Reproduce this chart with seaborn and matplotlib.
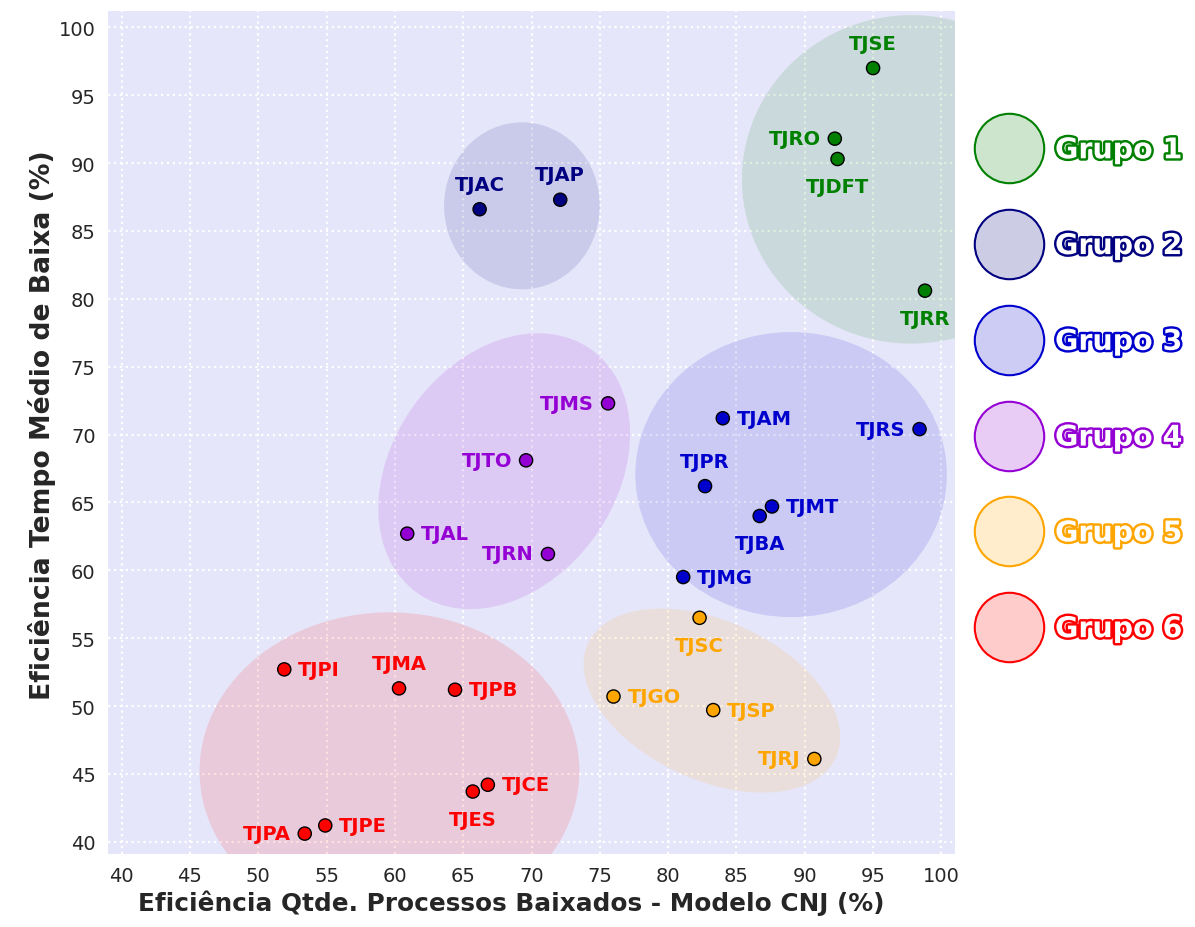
import numpy as np
import pandas as pd
import matplotlib
matplotlib.use("Agg")
import matplotlib.pyplot as plt
import seaborn as sns
from matplotlib.patches import Ellipse
from matplotlib.lines import Line2D
import matplotlib.patheffects as pe

# ---------------- data ----------------
tribunais = ["TJSE", "TJRO", "TJDFT", "TJRR",
             "TJAC", "TJAP",
             "TJAM", "TJRS", "TJPR", "TJMT", "TJBA", "TJMG",
             "TJMS", "TJTO", "TJAL", "TJRN",
             "TJSC", "TJGO", "TJSP", "TJRJ",
             "TJPI", "TJMA", "TJPB", "TJCE", "TJES", "TJPE", "TJPA"]
qtde_baixados = [95.0, 92.2, 92.4, 98.8,
                 66.2, 72.1,
                 84.0, 98.4, 82.7, 87.6, 86.7, 81.1,
                 75.6, 69.6, 60.9, 71.2,
                 82.3, 76.0, 83.3, 90.7,
                 51.9, 60.3, 64.4, 66.8, 65.7, 54.9, 53.4]
tempo_medio = [97.0, 91.8, 90.3, 80.6,
               86.6, 87.3,
               71.2, 70.4, 66.2, 64.7, 64.0, 59.5,
               72.3, 68.1, 62.7, 61.2,
               56.5, 50.7, 49.7, 46.1,
               52.7, 51.3, 51.2, 44.2, 43.7, 41.2, 40.6]
grupos = ["Grupo 1"] * 4 + ["Grupo 2"] * 2 + ["Grupo 3"] * 6 + \
         ["Grupo 4"] * 4 + ["Grupo 5"] * 4 + ["Grupo 6"] * 7

nomes_grupos = ["Grupo 1", "Grupo 2", "Grupo 3", "Grupo 4", "Grupo 5", "Grupo 6"]
cores_grupos = ["green", "navy", "mediumblue", "darkviolet", "orange", "red"]

xticks = [40, 45, 50, 55, 60, 65, 70, 75, 80, 85, 90, 95, 100]
yticks = [40, 45, 50, 55, 60, 65, 70, 75, 80, 85, 90, 95, 100]

df = pd.DataFrame({"tribunal": tribunais, "x": qtde_baixados,
                   "y": tempo_medio, "grupo": grupos})
paleta = dict(zip(nomes_grupos, cores_grupos))

# ---------------- style ----------------
sns.set_theme(style="darkgrid", rc={
    "axes.facecolor": "#e6e6fa",
    "grid.color": "white",
    "grid.linestyle": ":",
    "grid.linewidth": 1.6,
})
plt.rcParams["font.family"] = ["DejaVu Sans"]

fig = plt.figure(figsize=(11.95, 9.28), dpi=100)
ax = fig.add_axes([0.0904, 0.0787, 0.7088, 0.9083])

# cluster ellipses (center x, center y, width, height, angle)
elipses = {
    "Grupo 1": (97.8, 88.8, 24.8, 24.2, 0),
    "Grupo 2": (69.3, 86.85, 11.4, 12.3, 0),
    "Grupo 3": (89.0, 67.05, 22.8, 21.0, 0),
    "Grupo 4": (68.0, 67.3, 22.0, 16.4, 55),
    "Grupo 5": (83.2, 50.4, 20.0, 11.7, -25),
    "Grupo 6": (59.6, 45.2, 27.8, 23.4, 0),
}
for g, c in paleta.items():
    cx, cy, w, h, ang = elipses[g]
    ax.add_patch(Ellipse((cx, cy), w, h, angle=ang, facecolor=c,
                         alpha=0.12, edgecolor="none", zorder=1))

sns.scatterplot(data=df, x="x", y="y", hue="grupo", palette=paleta,
                s=90, edgecolor="black", linewidth=1.0, legend=False,
                ax=ax, zorder=3)

pos = {"TJSE": "t", "TJRO": "l", "TJDFT": "b", "TJRR": "b",
       "TJAC": "t", "TJAP": "t",
       "TJAM": "r", "TJRS": "l", "TJPR": "t", "TJMT": "r", "TJBA": "b", "TJMG": "r",
       "TJMS": "l", "TJTO": "l", "TJAL": "r", "TJRN": "l",
       "TJSC": "b", "TJGO": "r", "TJSP": "r", "TJRJ": "l",
       "TJPI": "r", "TJMA": "t", "TJPB": "r", "TJCE": "r", "TJES": "b",
       "TJPE": "r", "TJPA": "l"}
offs = {"t": ((0, 11), "center", "bottom"),
        "b": ((0, -13), "center", "top"),
        "l": ((-10, 0), "right", "center"),
        "r": ((10, 0), "left", "center")}
for _, row in df.iterrows():
    (dx, dy), ha, va = offs[pos[row["tribunal"]]]
    ax.annotate(row["tribunal"], (row["x"], row["y"]), xytext=(dx, dy),
                textcoords="offset points", ha=ha, va=va, fontsize=14,
                fontweight="bold", color=paleta[row["grupo"]], zorder=4)

ax.set_xlim(39, 101)
ax.set_ylim(39.1, 101.2)
ax.set_xticks(xticks)
ax.set_yticks(yticks)
ax.tick_params(axis="both", which="both", length=5, width=1,
               color="#555555", labelsize=14, pad=4)
for s in ax.spines.values():
    s.set_visible(False)

ax.set_xlabel("Eficiência Qtde. Processos Baixados - Modelo CNJ (%)",
              fontsize=17.8, fontweight="bold", labelpad=3)
ax.xaxis.label.set_x(0.476)
ax.set_ylabel("Eficiência Tempo Médio de Baixa (%)",
              fontsize=19.2, fontweight="bold", labelpad=2)
ax.yaxis.label.set_y(0.51)

# legend
handles = [Line2D([0], [0], marker="o", linestyle="none", markersize=50,
                  markerfacecolor=matplotlib.colors.to_rgba(c, 0.2),
                  markeredgecolor=c, markeredgewidth=1.5)
           for c in cores_grupos]
leg = fig.legend(handles, nomes_grupos, loc="center left",
                 bbox_to_anchor=(0.799, 0.579), frameon=False,
                 prop={"size": 20.5, "weight": "bold"},
                 labelspacing=2.38, handletextpad=0.62, handlelength=2.0)
for t, c in zip(leg.get_texts(), cores_grupos):
    t.set_color("white")
    t.set_path_effects([pe.withStroke(linewidth=3.5, foreground=c)])

fig.savefig("out.png", dpi=100)
